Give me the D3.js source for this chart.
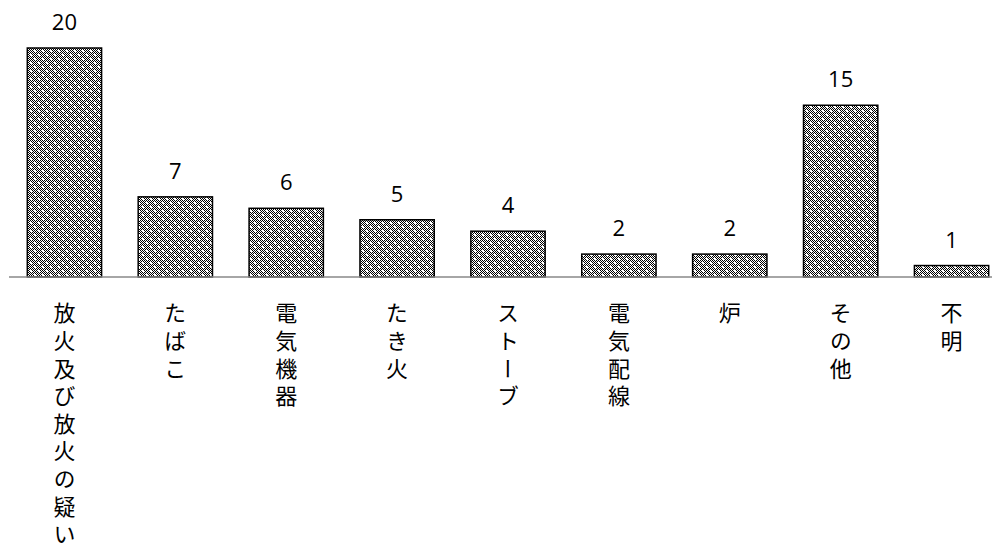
<!DOCTYPE html>
<html>
<head>
<meta charset="utf-8">
<script src="https://cdn.jsdelivr.net/npm/d3@7"></script>
<style>
body { margin: 0; background: #fff; overflow: hidden; }
text { font-family: "Noto Sans CJK JP", "Noto Sans", sans-serif; fill: #000; }
</style>
</head>
<body>
<div id="chart"></div>
<script>
var categories = ["放火及び放火の疑い", "たばこ", "電気機器", "たき火", "ストーブ", "電気配線", "炉", "その他", "不明"];
var values = [20, 7, 6, 5, 4, 2, 2, 15, 1];

var width = 992, height = 555;
var baseY = 277;

var svg = d3.select("#chart")
    .append("svg")
    .attr("width", width)
    .attr("height", height);

// dotted fill like the office pattern
var defs = svg.append("defs");
var pat = defs.append("pattern")
    .attr("id", "dots")
    .attr("patternUnits", "userSpaceOnUse")
    .attr("width", 8)
    .attr("height", 8);
pat.append("rect").attr("width", 8).attr("height", 8).attr("fill", "#fff");
for (var i = 0; i < 8; i++) {
    for (var j = 0; j < 8; j++) {
        if ((i + j) % 2 === 0) {
            pat.append("rect").attr("x", i).attr("y", j).attr("width", 1).attr("height", 1).attr("fill", "#000");
        }
    }
}
pat.append("rect").attr("x", 2).attr("y", 2).attr("width", 2).attr("height", 2).attr("fill", "#fff");
pat.append("rect").attr("x", 6).attr("y", 6).attr("width", 2).attr("height", 2).attr("fill", "#fff");

var x = d3.scaleBand()
    .domain(categories)
    .range([9, 1007])
    .paddingInner(0.33)
    .paddingOuter(0.165);

var y = d3.scaleLinear()
    .domain([0, 20])
    .range([baseY, 48]);

svg.selectAll("rect.bar")
    .data(categories)
    .enter()
    .append("rect")
    .attr("class", "bar")
    .attr("x", d => x(d))
    .attr("y", (d, i) => y(values[i]))
    .attr("width", x.bandwidth())
    .attr("height", (d, i) => baseY - y(values[i]))
    .attr("fill", "url(#dots)")
    .attr("stroke", "#000")
    .attr("stroke-width", 1.5);

svg.append("line")
    .attr("x1", 9)
    .attr("x2", width)
    .attr("y1", baseY)
    .attr("y2", baseY)
    .attr("stroke", "#888")
    .attr("stroke-width", 1.5);

// value labels
svg.selectAll("text.val")
    .data(categories)
    .enter()
    .append("text")
    .attr("class", "val")
    .attr("x", d => x(d) + x.bandwidth() / 2)
    .attr("y", (d, i) => y(values[i]) - 18)
    .attr("text-anchor", "middle")
    .style("font-family", "'Open Sans', sans-serif")
    .style("font-size", "22px")
    .text((d, i) => values[i]);

// vertical category labels (upright, top to bottom)
svg.selectAll("text.cat")
    .data(categories)
    .enter()
    .append("text")
    .attr("class", "cat")
    .attr("x", d => x(d) + x.bandwidth() / 2)
    .attr("y", 302)
    .style("writing-mode", "vertical-rl")
    .style("text-orientation", "upright")
    .style("letter-spacing", "5.6px")
    .style("font-size", "22px")
    .text(d => d);
</script>
</body>
</html>
